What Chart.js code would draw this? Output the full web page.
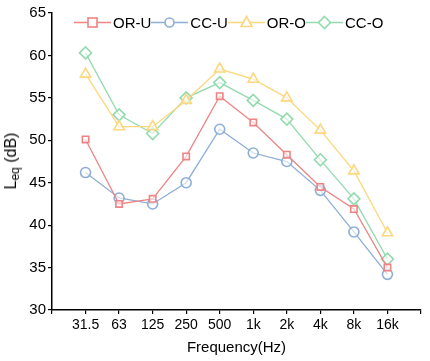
<!DOCTYPE html>
<html>
<head>
<meta charset="utf-8">
<script src="https://cdn.jsdelivr.net/npm/chart.js@4"></script>
<style>
  body { margin: 0; background: #fff; font-family: Arial, "Liberation Sans", sans-serif; }
  #wrap { position: relative; width: 430px; height: 361px; }
  #legend { position: absolute; left: 74px; top: 12px; display: flex; align-items: center; font-size: 15px; color: #000; }
  .item { display: flex; align-items: center; }
  .item span { margin-left: 2px; }
  #ytitle { position: absolute; left: 12px; top: 161px; transform: translate(-50%, -50%) rotate(-90deg); font-size: 16px; white-space: nowrap; }
  #ytitle sub { font-size: 12px; vertical-align: -3px; }
</style>
</head>
<body>
<div id="wrap">
  <canvas id="c" width="430" height="361"></canvas>
  <div id="legend"></div>
  <div id="ytitle">L<sub>eq</sub> (dB)</div>
</div>
<script>
// === データ ===
const categories = ['31.5', '63', '125', '250', '500', '1k', '2k', '4k', '8k', '16k'];
const orU = [50.1, 42.5, 43.1, 48.1, 55.2, 52.1, 48.3, 44.5, 41.9, 35.0];
const ccU = [46.2, 43.2, 42.5, 45.0, 51.3, 48.5, 47.5, 44.1, 39.2, 34.2];
const orO = [57.8, 51.6, 51.6, 54.7, 58.4, 57.2, 55.0, 51.2, 46.4, 39.1];
const ccO = [60.3, 53.0, 50.8, 55.0, 56.8, 54.7, 52.5, 47.7, 43.1, 36.0];
const seriesNames = ['OR-U', 'CC-U', 'OR-O', 'CC-O'];
const yTicks = [30, 35, 40, 45, 50, 55, 60, 65];

const colors = ['#EE8484', '#8DAED8', '#FBD77E', '#93DBAE'];
const styles = ['rect', 'circle', 'triangle', 'rectRot'];
const radii = [4.5, 5, 6, 6];

function toPoints(arr) {
    return arr.map((v, i) => ({ x: i, y: v }));
}

const datasets = [orU, ccU, orO, ccO].map((arr, i) => ({
    label: seriesNames[i],
    data: toPoints(arr),
    borderColor: colors[i],
    backgroundColor: '#fff',
    pointBackgroundColor: 'rgba(255,255,255,0.6)',
    pointBorderColor: colors[i],
    pointBorderWidth: 1.6,
    pointStyle: styles[i],
    pointRadius: radii[i],
    borderWidth: 1.3,
    tension: 0,
    fill: false,
}));

// === 凡例（HTML） ===
function markerSvg(i) {
    const c = colors[i];
    let m = '';
    if (i === 0) m = `<rect x="14" y="6" width="9" height="9" fill="#fff" stroke="${c}" stroke-width="1.6"/>`;
    if (i === 1) m = `<circle cx="18.5" cy="10.5" r="4.5" fill="#fff" stroke="${c}" stroke-width="1.6"/>`;
    if (i === 2) m = `<polygon points="18.5,4.5 24,14.5 13,14.5" fill="#fff" stroke="${c}" stroke-width="1.6"/>`;
    if (i === 3) m = `<polygon points="18.5,4.5 24.5,10.5 18.5,16.5 12.5,10.5" fill="#fff" stroke="${c}" stroke-width="1.6"/>`;
    return `<svg width="37" height="21"><line x1="0" y1="10.5" x2="37" y2="10.5" stroke="${c}" stroke-width="1.6"/>${m}</svg>`;
}
document.getElementById('legend').innerHTML = seriesNames.map((n, i) =>
    `<div class="item">${markerSvg(i)}<span>${n}</span></div>`).join('');

// === グラフ ===
new Chart(document.getElementById('c'), {
    type: 'line',
    data: { datasets: datasets },
    options: {
        responsive: false,
        animation: false,
        layout: { padding: { top: 13, right: 9, left: 0, bottom: 0 } },
        plugins: { legend: { display: false }, tooltip: { enabled: false } },
        scales: {
            x: {
                type: 'linear',
                min: -1,
                max: 10,
                afterFit: s => { s.height = 51; },
                afterBuildTicks: s => { s.ticks = []; for (let i = -1; i <= 10; i++) s.ticks.push({ value: i }); },
                ticks: {
                    font: { family: 'Arial', size: 14 },
                    color: '#000',
                    padding: 3,
                    maxRotation: 0,
                    autoSkip: false,
                    callback: v => categories[v] !== undefined ? categories[v] : '',
                },
                grid: { drawOnChartArea: false, drawTicks: true, tickLength: 4, color: '#000', lineWidth: 1.2 },
                border: { color: '#000', width: 1.5 },
                title: { display: true, text: 'Frequency(Hz)', font: { family: 'Arial', size: 15 }, color: '#000', padding: { top: 4 } },
            },
            y: {
                min: 30,
                max: 65,
                afterFit: s => { s.width = 52; },
                afterBuildTicks: s => { s.ticks = yTicks.map(v => ({ value: v })); },
                ticks: { font: { family: 'Arial', size: 15 }, color: '#000', padding: 2 },
                grid: { drawOnChartArea: false, drawTicks: true, tickLength: 4, color: '#000', lineWidth: 1.2 },
                border: { color: '#000', width: 1.5 },
            },
        },
    },
});
</script>
</body>
</html>
